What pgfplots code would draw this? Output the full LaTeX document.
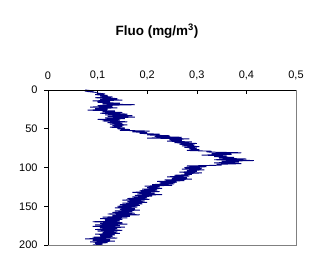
\documentclass[border=0pt]{standalone}
\usepackage{pgfplots}
\pgfplotsset{compat=1.18}
\usepackage{pgfplotstable}
\usepackage{fontspec}
\setmainfont{Liberation Sans}
\definecolor{navyline}{RGB}{0,0,128}
\definecolor{frgray}{RGB}{128,128,128}
\pgfplotstableread{
x d
0.075 0
0.090 1
0.080 2
0.095 3
0.100 4
0.115 5
0.095 6
0.120 7
0.105 8
0.130 9
0.095 10
0.140 11
0.105 12
0.150 13
0.090 14
0.125 15
0.100 16
0.145 17
0.110 18
0.175 19
0.100 20
0.130 21
0.085 22
0.140 23
0.095 24
0.120 25
0.080 26
0.135 27
0.110 28
0.150 29
0.105 30
0.160 31
0.115 32
0.170 33
0.120 34
0.175 35
0.115 36
0.155 37
0.100 38
0.145 39
0.110 40
0.160 41
0.120 42
0.150 43
0.125 44
0.160 45
0.130 46
0.150 47
0.125 48
0.155 49
0.140 50
0.165 51
0.145 52
0.205 53
0.170 54
0.200 55
0.185 56
0.225 57
0.200 58
0.245 59
0.215 60
0.270 61
0.200 62
0.285 63
0.245 64
0.270 65
0.240 66
0.290 67
0.255 68
0.300 69
0.265 70
0.295 71
0.270 72
0.305 73
0.275 74
0.300 75
0.285 76
0.305 77
0.280 78
0.330 79
0.320 80
0.390 81
0.330 82
0.370 83
0.310 84
0.360 85
0.335 86
0.375 87
0.345 88
0.400 89
0.335 90
0.415 91
0.350 92
0.385 93
0.335 94
0.390 95
0.340 96
0.350 97
0.280 98
0.320 99
0.275 100
0.310 101
0.270 102
0.315 103
0.280 104
0.300 105
0.265 106
0.310 107
0.275 108
0.290 109
0.255 110
0.285 111
0.240 112
0.280 113
0.250 114
0.290 115
0.235 116
0.275 117
0.220 118
0.260 119
0.225 120
0.255 121
0.210 122
0.250 123
0.195 124
0.225 125
0.200 126
0.230 127
0.190 128
0.220 129
0.185 130
0.225 131
0.170 132
0.215 133
0.180 134
0.230 135
0.175 136
0.210 137
0.170 138
0.200 139
0.160 140
0.205 141
0.150 142
0.195 143
0.160 144
0.200 145
0.150 146
0.190 147
0.145 148
0.185 149
0.140 150
0.180 151
0.135 152
0.175 153
0.145 154
0.185 155
0.135 156
0.170 157
0.130 158
0.175 159
0.120 160
0.185 161
0.130 162
0.165 163
0.110 164
0.160 165
0.105 166
0.150 167
0.115 168
0.145 169
0.090 170
0.150 171
0.105 172
0.160 173
0.095 174
0.145 175
0.090 176
0.155 177
0.105 178
0.140 179
0.095 180
0.150 181
0.100 182
0.140 183
0.110 184
0.145 185
0.095 186
0.135 187
0.105 188
0.130 189
0.090 190
0.140 191
0.075 192
0.125 193
0.090 194
0.135 195
0.085 196
0.120 197
0.095 198
0.110 199
0.090 200
}\fluo
\begin{document}
\begin{tikzpicture}
\path[use as bounding box] (0,0) rectangle (321bp,273bp);
\begin{axis}[
  at={(48bp,28bp)}, anchor=south west,
  scale only axis, width=248bp, height=155bp,
  xmin=0, xmax=0.5, ymin=0, ymax=200,
  y dir=reverse,
  xtick={0,0.1,0.2,0.3,0.4,0.5},
  ytick={0,50,100,150,200},
  xticklabel pos=right, xtick pos=right,
  yticklabel pos=left, ytick pos=left,
  xtick align=inside, ytick align=outside,
  major tick length=4bp,
  tick style={black, line width=0.6pt},
  axis line style={draw=none},
  /pgf/number format/use comma,
  /pgf/number format/assume math mode=true,
  ticklabel style={font=\fontsize{11}{13}\selectfont},
  xticklabel style={yshift=7bp},
  yticklabel style={xshift=-3bp},
  clip=false,
]
\addplot[navyline, line width=0.9pt, line join=miter] table[x=x,y=d] {\fluo};
\draw[frgray, line width=0.8pt] (axis cs:0.5,0) -- (axis cs:0.5,200) -- (axis cs:0,200);
\draw[black, line width=0.8pt] (axis cs:0,200) -- (axis cs:0,0) -- (axis cs:0.5,0);
\end{axis}
\node[font=\bfseries\fontsize{13.5}{15}\selectfont] at (157bp,242bp) {Fluo (mg/m\textsuperscript{3})};
\end{tikzpicture}
\end{document}
